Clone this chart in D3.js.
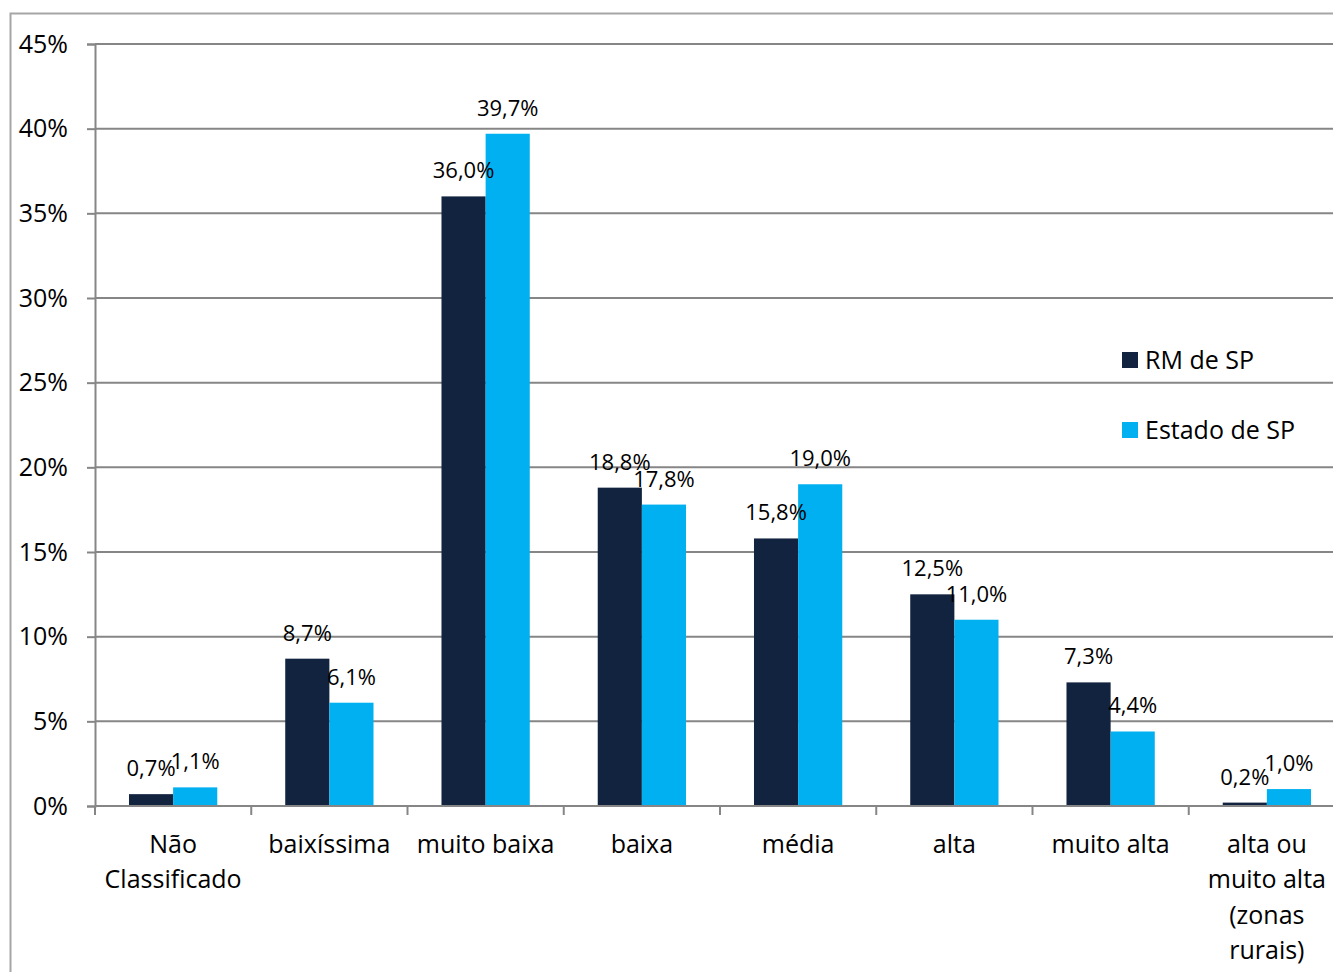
<!DOCTYPE html>
<html><head><meta charset="utf-8">
<script src="https://cdn.jsdelivr.net/npm/d3@7"></script>
<style>html,body{margin:0;padding:0;background:#fff;overflow:hidden}</style>
</head><body>
<svg id="c" width="1333" height="972"></svg>
<script>
const categories = [["Não","Classificado"],["baixíssima"],["muito baixa"],["baixa"],["média"],["alta"],["muito alta"],["alta ou","muito alta","(zonas","rurais)"]];
const seriesNames = ["RM de SP","Estado de SP"];
const rmValues = [0.7, 8.7, 36.0, 18.8, 15.8, 12.5, 7.3, 0.2];
const estadoValues = [1.1, 6.1, 39.7, 17.8, 19.0, 11.0, 4.4, 1.0];
const yTicks = [0,5,10,15,20,25,30,35,40,45];
const colors = ["#12233f","#00b0f0"];

(function(){
const svg = d3.select("#c");
const font = "'Open Sans', sans-serif";
const pL = 95, pR = 1345, pT = 44, pB = 806;

// outer border
svg.append("path").attr("d","M10.5,972 L10.5,13.5 L1333,13.5").attr("fill","none").attr("stroke","#a6a6a6").attr("stroke-width",2);

const x = d3.scaleBand().domain(d3.range(categories.length)).range([pL,pR]).paddingInner(0.435).paddingOuter(0.2175);
const x1 = d3.scaleBand().domain([0,1]).range([0,x.bandwidth()]);
const y = d3.scaleLinear().domain([0,45]).range([pB,pT]);

// gridlines
svg.append("g").selectAll("line").data(yTicks).join("line")
  .attr("x1",pL).attr("x2",1333).attr("y1",d=>y(d)).attr("y2",d=>y(d))
  .attr("stroke","#868686").attr("stroke-width",2);

// y axis
const ya = svg.append("g").attr("transform",`translate(${pL},0)`)
  .call(d3.axisLeft(y).tickValues(yTicks).tickSize(8).tickPadding(19).tickFormat(d=>d+"%"));
ya.select(".domain").attr("stroke","#868686").attr("stroke-width",2);
ya.selectAll(".tick line").attr("stroke","#868686").attr("stroke-width",2);
ya.selectAll(".tick text").attr("font-family",font).attr("font-size",25).attr("fill","#000");

// x axis ticks (boundaries)
const bounds = d3.range(categories.length+1).map(i=> pL + i*(pR-pL)/categories.length);
svg.append("g").selectAll("line").data(bounds).join("line")
  .attr("x1",d=>d).attr("x2",d=>d).attr("y1",pB).attr("y2",pB+9)
  .attr("stroke","#868686").attr("stroke-width",2);

const series = [rmValues, estadoValues];
series.forEach((vals,si)=>{
  const g = svg.append("g");
  g.selectAll("rect").data(vals).join("rect")
    .attr("x",(d,i)=>x(i)+x1(si)).attr("width",x1.bandwidth())
    .attr("y",d=>y(d)).attr("height",d=>pB-y(d)).attr("fill",colors[si]);
});
svg.append("line").attr("x1",pL).attr("x2",1333).attr("y1",pB).attr("y2",pB).attr("stroke","#868686").attr("stroke-width",2);

series.forEach((vals,si)=>{
  svg.append("g").selectAll("text").data(vals).join("text")
    .attr("x",(d,i)=>x(i)+x1(si)+x1.bandwidth()/2)
    .attr("y",d=>y(d)-18)
    .attr("text-anchor","middle").attr("font-family",font).attr("font-size",22).attr("fill","#000")
    .text(d=>d.toFixed(1).replace(".",",")+"%");
});

// category labels
const cg = svg.append("g");
categories.forEach((lines,i)=>{
  const cx = x(i)+x.bandwidth()/2;
  const t = cg.append("text").attr("x",cx).attr("y",853)
    .attr("text-anchor","middle").attr("font-family",font).attr("font-size",25).attr("fill","#000");
  lines.forEach((ln,j)=> t.append("tspan").attr("x",cx).attr("y",853+j*35.3).text(ln));
});

// legend
const lg = svg.append("g");
seriesNames.forEach((n,i)=>{
  lg.append("rect").attr("x",1122).attr("y",352+i*70).attr("width",16).attr("height",16).attr("fill",colors[i]);
  lg.append("text").attr("x",1145).attr("y",369+i*70).attr("font-family",font).attr("font-size",25).attr("fill","#000").text(n);
});
})();
</script>
</body></html>
